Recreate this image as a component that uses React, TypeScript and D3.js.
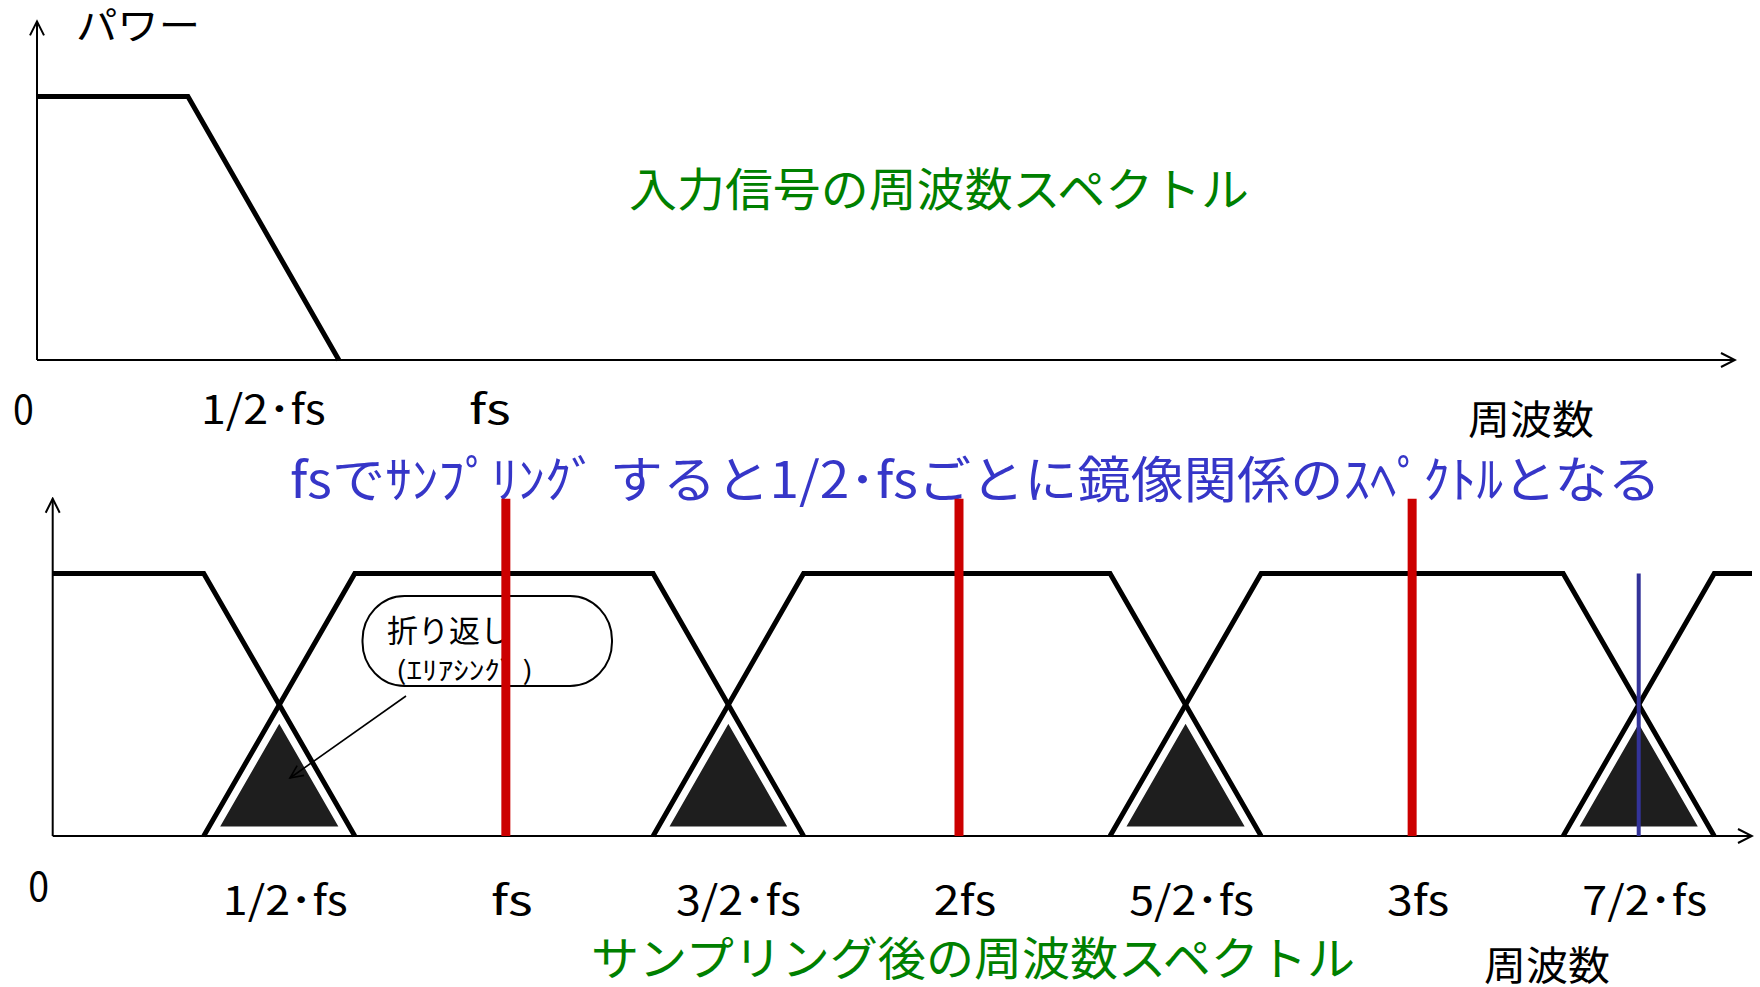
import { scaleLinear, line } from "d3";

type Pt = [number, number];

// frequencies are in units of fs, power is relative (1 = passband)
const inputSpectrum: Pt[] = [[0, 1], [1 / 3, 1], [2 / 3, 0]];

const sampledSpectra: Pt[][] = [
  [[0, 1], [1 / 3, 1], [2 / 3, 0]],
  [[1 / 3, 0], [2 / 3, 1], [1.325, 1], [1.657, 0]],
  [[1.325, 0], [1.657, 1], [7 / 3, 1], [8 / 3, 0]],
  [[7 / 3, 0], [8 / 3, 1], [10 / 3, 1], [11 / 3, 0]],
  [[10 / 3, 0], [11 / 3, 1], [3.75, 1]],
];

const aliasTriangles: Pt[][] = [
  [[1 / 3, 0], [0.5, 0.5], [2 / 3, 0]],
  [[1.325, 0], [1.491, 0.5], [1.657, 0]],
  [[7 / 3, 0], [2.5, 0.5], [8 / 3, 0]],
  [[10 / 3, 0], [3.5, 0.5], [11 / 3, 0]],
];

const samplingLines = [1, 2, 3];
const foldLine = 3.5;

const topTicks = [0, 0.5, 1];
const topTickLabels = ["0", "1/2･fs", "fs"];
const bottomTicks = [0, 0.5, 1, 1.5, 2, 2.5, 3, 3.5];
const bottomTickLabels = ["0", "1/2･fs", "fs", "3/2･fs", "2fs", "5/2･fs", "3fs", "7/2･fs"];

const FONT = '"Noto Sans CJK JP", "Noto Sans CJK SC", sans-serif';
const W = 1760;
const H = 987;
const HEADROOM = 1.285; // y axis arrow reaches a bit above the passband

export default function App() {
  const xTop = scaleLinear().domain([0, 3.75]).range([37, 1735]);
  const yTop = scaleLinear().domain([0, 1]).range([360, 96.5]);
  const xBot = scaleLinear().domain([0, 3.75]).range([52.7, 1752]);
  const yBot = scaleLinear().domain([0, 1]).range([836, 573.5]);

  const lineTop = line<Pt>().x((d) => xTop(d[0])).y((d) => yTop(d[1]));
  const lineBot = line<Pt>().x((d) => xBot(d[0])).y((d) => yBot(d[1]));

  const charW = 20.8; // half-width glyph width of the tick labels

  return (
    <svg
      width={W}
      height={H}
      viewBox={`0 0 ${W} ${H}`}
      style={{ position: "absolute", left: 0, top: 0, background: "#fff" }}
      fontFamily={FONT}
    >
      <defs>
        <marker id="axisArrow" viewBox="0 0 20 20" refX={18} refY={10} markerWidth={20} markerHeight={20} markerUnits="userSpaceOnUse" orient="auto">
          <path d="M4,3 L18,10 L4,17" fill="none" stroke="#000" strokeWidth={2} />
        </marker>
        <marker id="smallArrow" viewBox="0 0 20 20" refX={18} refY={10} markerWidth={20} markerHeight={20} markerUnits="userSpaceOnUse" orient="auto">
          <path d="M5,4 L18,10 L5,16" fill="none" stroke="#000" strokeWidth={1.6} />
        </marker>
      </defs>
      <rect width={W} height={H} fill="#fff" />

      {/* ---------- top: input spectrum ---------- */}
      <path d={lineTop(inputSpectrum) ?? ""} fill="none" stroke="#000" strokeWidth={5} />
      <line x1={xTop(0)} y1={yTop(0)} x2={xTop(3.75)} y2={yTop(0)} stroke="#000" strokeWidth={2} markerEnd="url(#axisArrow)" />
      <line x1={xTop(0)} y1={yTop(0)} x2={xTop(0)} y2={yTop(HEADROOM)} stroke="#000" strokeWidth={2} markerEnd="url(#axisArrow)" />
      <text x={76} y={39} fontSize={38} textLength={124} lengthAdjust="spacingAndGlyphs">パワー</text>
      {topTicks.map((t, i) => (
        <text
          key={"tt" + i}
          x={xTop(t) + (t === 0 ? -13.5 : 0)}
          y={424}
          fontSize={40}
          textAnchor="middle"
          textLength={topTickLabels[i].length * charW}
          lengthAdjust="spacingAndGlyphs"
        >
          {topTickLabels[i]}
        </text>
      ))}
      <text x={1468} y={434} fontSize={40} textLength={126} lengthAdjust="spacingAndGlyphs">周波数</text>
      <text x={629} y={206} fontSize={46} fill="#008000" textLength={620} lengthAdjust="spacingAndGlyphs">
        入力信号の周波数スペクトル
      </text>

      <text x={290} y={498} fontSize={50} fill="#3636c8" textLength={1371} lengthAdjust="spacingAndGlyphs">
        fsでｻﾝﾌﾟﾘﾝｸﾞ すると1/2･fsごとに鏡像関係のｽﾍﾟｸﾄﾙとなる
      </text>

      {/* ---------- bottom: sampled spectrum ---------- */}
      {aliasTriangles.map((tri, i) => (
        <path
          key={"tri" + i}
          d={(lineBot(tri) ?? "") + "Z"}
          fill="#1e1e1e"
          stroke="#fff"
          strokeWidth={19}
          strokeLinejoin="miter"
          strokeMiterlimit={10}
        />
      ))}
      {sampledSpectra.map((seg, i) => (
        <path key={"sp" + i} d={lineBot(seg) ?? ""} fill="none" stroke="#000" strokeWidth={5} />
      ))}
      <line x1={xBot(0)} y1={yBot(0)} x2={xBot(3.75)} y2={yBot(0)} stroke="#000" strokeWidth={2} markerEnd="url(#axisArrow)" />
      <line x1={xBot(0)} y1={yBot(0)} x2={xBot(0)} y2={yBot(HEADROOM)} stroke="#000" strokeWidth={2} markerEnd="url(#axisArrow)" />

      {/* callout */}
      <rect x={362.5} y={596} width={249.5} height={90} rx={42} ry={44} fill="#fff" stroke="#000" strokeWidth={2} />
      <text x={387} y={642} fontSize={31} textLength={124} lengthAdjust="spacingAndGlyphs">折り返し</text>
      <text x={396} y={680} fontSize={26} textLength={137} lengthAdjust="spacingAndGlyphs">(ｴﾘｱｼﾝｸﾞ )</text>
      <line x1={406} y1={696} x2={290} y2={778} stroke="#000" strokeWidth={1.6} markerEnd="url(#smallArrow)" />

      {samplingLines.map((f) => (
        <line key={"fs" + f} x1={xBot(f)} y1={yBot(0)} x2={xBot(f)} y2={yBot(HEADROOM)} stroke="#cc0000" strokeWidth={9} />
      ))}
      <line x1={xBot(foldLine)} y1={yBot(0)} x2={xBot(foldLine)} y2={yBot(1)} stroke="#333399" strokeWidth={4} />

      {bottomTicks.map((t, i) => (
        <text
          key={"bt" + i}
          x={xBot(t) + (t === 0 ? -14 : 6)}
          y={t === 0 ? 901 : 915}
          fontSize={40}
          textAnchor="middle"
          textLength={bottomTickLabels[i].length * charW}
          lengthAdjust="spacingAndGlyphs"
        >
          {bottomTickLabels[i]}
        </text>
      ))}
      <text x={1484} y={980} fontSize={40} textLength={126} lengthAdjust="spacingAndGlyphs">周波数</text>
      <text x={591} y={975} fontSize={46} fill="#008000" textLength={764} lengthAdjust="spacingAndGlyphs">
        サンプリング後の周波数スペクトル
      </text>
    </svg>
  );
}
